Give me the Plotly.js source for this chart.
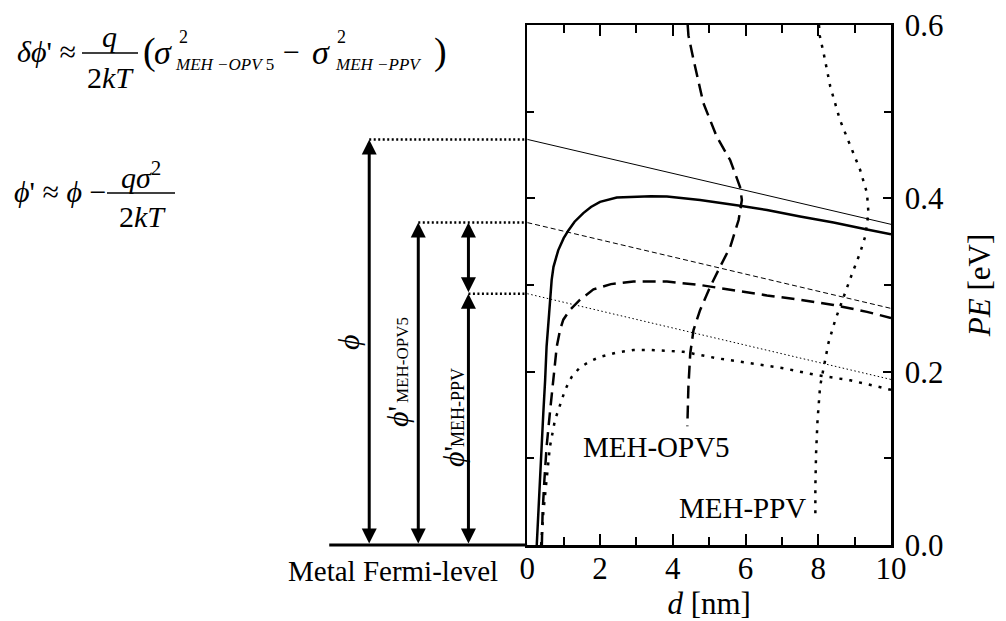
<!DOCTYPE html>
<html>
<head>
<meta charset="utf-8">
<script src="https://cdn.plot.ly/plotly-3.0.1.min.js"></script>
<style>html,body{margin:0;padding:0;background:#fff;}</style>
</head>
<body>
<div id="chart" style="width:1006px;height:621px;"></div>
<script>
// ---------------- data ----------------
const lineEnds = [0, 10];
const phiLineY  = [0.468, 0.370];   // thin solid  (phi)
const opv5LineY = [0.372, 0.273];   // thin dashed (phi' MEH-OPV5)
const ppvLineY  = [0.290, 0.191];   // thin dotted (phi' MEH-PPV)

const phiCurveD = [0.26, 0.30, 0.35, 0.40, 0.44, 0.49, 0.53, 0.60, 0.67, 0.72, 0.85, 1.0, 1.13, 1.3, 1.54, 1.75, 2.0, 2.46, 2.92, 3.4, 3.84, 4.75, 5.85, 6.59, 7.5, 8.42, 9.34, 10];
const phiCurveE = [0, 0.037, 0.075, 0.113, 0.152, 0.19, 0.229, 0.267, 0.306, 0.321, 0.340, 0.354, 0.363, 0.373, 0.383, 0.390, 0.396, 0.401, 0.402, 0.4025, 0.402, 0.398, 0.3915, 0.3865, 0.379, 0.372, 0.364, 0.3585];

const opv5CurveD = [0.40, 0.42, 0.47, 0.53, 0.62, 0.72, 0.81, 0.90, 0.99, 1.17, 1.45, 1.82, 2.3, 2.92, 3.84, 4.75, 5.67, 6.59, 7.5, 8.42, 9.34, 10];
const opv5CurveE = [0, 0.037, 0.075, 0.113, 0.152, 0.19, 0.229, 0.248, 0.26, 0.271, 0.283, 0.295, 0.301, 0.304, 0.304, 0.300, 0.294, 0.288, 0.283, 0.277, 0.269, 0.262];

const ppvCurveD = [0.38, 0.44, 0.53, 0.62, 0.76, 0.90, 1.04, 1.22, 1.45, 1.73, 2.0, 2.45, 2.92, 3.38, 4.29, 5.21, 6.13, 7.04, 7.96, 8.88, 9.71, 10];
const ppvCurveE = [0, 0.037, 0.075, 0.113, 0.144, 0.162, 0.179, 0.194, 0.205, 0.212, 0.217, 0.222, 0.225, 0.225, 0.223, 0.2155, 0.21, 0.204, 0.196, 0.19, 0.182, 0.179];

const opv5ProfileD = [4.41, 4.43, 4.57, 4.84, 5.21, 5.58, 5.85, 5.90, 5.81, 5.58, 5.30, 5.03, 4.75, 4.57, 4.48, 4.43, 4.40];
const opv5ProfileE = [0.6, 0.588, 0.56, 0.510, 0.471, 0.444, 0.413, 0.398, 0.375, 0.344, 0.321, 0.298, 0.271, 0.248, 0.221, 0.183, 0.137];

const ppvProfileD = [8.02, 8.04, 8.15, 8.33, 8.60, 8.88, 9.15, 9.34, 9.38, 9.29, 9.15, 8.93, 8.70, 8.47, 8.28, 8.15, 8.05, 7.98, 7.94, 7.92, 7.92];
const ppvProfileE = [0.6, 0.588, 0.567, 0.529, 0.490, 0.460, 0.433, 0.406, 0.383, 0.356, 0.337, 0.313, 0.287, 0.260, 0.233, 0.206, 0.183, 0.144, 0.106, 0.067, 0.029];

const levelNames  = ['phi', 'phiOPV5', 'phiPPV'];
const levelValues = [0.468, 0.372, 0.290];

const xTickVals = [0, 2, 4, 6, 8, 10];
const xTickText = ['0', '2', '4', '6', '8', '10'];
const yTickVals = [0, 0.2, 0.4, 0.6];
const yTickText = ['0.0', '0.2', '0.4', '0.6'];

// ---------------- layout helpers ----------------
const FONT = 'Liberation Serif, DejaVu Serif, serif';
const W = 1006, H = 621, ML = 0, MR = 115, MT = 25, MB = 66;
const PW = W - ML - MR, PH = H - MT - MB;
const px2p = px => (px - ML) / PW;
const py2p = py => (MT + PH - py) / PH;

// x positions (left panel, nm-like units) of the level arrows
const arrowX = {phi: -4.35, phiOPV5: -3.0, phiPPV: -1.62};
const baselineStart = -5.45;

const traces = [];
const blk = 'black';
function addLine(x, y, width, dash, xa, ya) {
  traces.push({x: x, y: y, type: 'scatter', mode: 'lines',
    line: {color: blk, width: width, dash: dash, shape: 'linear'},
    xaxis: xa || 'x', yaxis: ya || 'y', hoverinfo: 'skip', showlegend: false});
}
addLine(lineEnds, phiLineY, 1, 'solid');
addLine(lineEnds, opv5LineY, 1, '5px,3px');
addLine(lineEnds, ppvLineY, 1, '1.5px,2.5px');
addLine(phiCurveD, phiCurveE, 2.5, 'solid');
addLine(opv5CurveD, opv5CurveE, 2.5, '13px,7px');
addLine(ppvCurveD, ppvCurveE, 2.5, '3px,7px');
addLine(opv5ProfileD, opv5ProfileE, 2.5, '13px,7px');
addLine(ppvProfileD, ppvProfileE, 2.5, '3px,7px');

// dotted level lines in left panel
levelNames.forEach((n, i) => {
  addLine([arrowX[n], 0], [levelValues[i], levelValues[i]], 2.5, '2px,2.5px', 'x2', 'y2');
});
// metal Fermi level baseline
addLine([baselineStart, 0], [0, 0], 3, 'solid', 'x2', 'y2');

const annotations = [];
function arrow(x, y0, y1) {
  annotations.push({xref: 'x2', yref: 'y2', axref: 'x2', ayref: 'y2',
    x: x, y: y1, ax: x, ay: y0, text: '', showarrow: true,
    arrowhead: 2, startarrowhead: 2, arrowside: 'end+start',
    arrowsize: 1, startarrowsize: 1, arrowwidth: 3, arrowcolor: blk,
    standoff: 0, startstandoff: 0});
}
arrow(arrowX.phi, 0, levelValues[0]);
arrow(arrowX.phiOPV5, 0, levelValues[1]);
arrow(arrowX.phiPPV, 0, levelValues[2]);
arrow(arrowX.phiPPV, levelValues[2], levelValues[1]);

function txt(o) {
  annotations.push(Object.assign({showarrow: false, xanchor: 'center', yanchor: 'middle',
    font: {family: FONT, size: 30, color: blk}}, o));
}
// rotated labels in the left panel (positioned in pixels)
function ptxt(px, py, size, text) {
  txt({xref: 'paper', yref: 'paper', x: px2p(px), y: py2p(py), textangle: -90,
       text: text, font: {family: FONT, size: size, color: blk}});
}
ptxt(348, 342, 30, '<i>ϕ</i>');
ptxt(397, 417, 30, "<i>ϕ</i>'");
ptxt(402, 360, 17, 'MEH-OPV5');
ptxt(453, 457, 30, "<i>ϕ</i>'");
ptxt(458, 408, 18, 'MEH-PPV');

txt({xref: 'x2', yref: 'y2', x: -0.75, y: 0, yshift: -26, xanchor: 'right',
     text: 'Metal Fermi-level', font: {family: FONT, size: 29, color: blk}});
// curve labels in plot
txt({xref: 'x', yref: 'y', x: 3.54, y: 0.113, text: 'MEH-OPV5', font: {family: FONT, size: 29, color: blk}});
txt({xref: 'x', yref: 'y', x: 5.92, y: 0.043, text: 'MEH-PPV', font: {family: FONT, size: 29, color: blk}});

// formulas (paper coordinates from pixel positions)
function ftxt(px, baseline, size, text, xanchor) {
  txt({xref: 'paper', yref: 'paper', x: px2p(px), y: py2p(baseline - 0.3375 * size),
       xanchor: xanchor || 'left', text: text,
       font: {family: FONT, size: size, color: blk}});
}
ftxt(15, 62, 30, "<i>δϕ</i>' ≈");
ftxt(109, 47, 30, '<i>q</i>', 'center');
ftxt(110, 88, 30, '2<i>kT</i>', 'center');
ftxt(141, 64, 38, '(');
ftxt(152, 64, 34, '<i>σ</i>');
ftxt(177, 43, 18, '2');
ftxt(173, 70, 17, '<i>MEH −OPV</i> 5');
ftxt(281, 62, 30, '−');
ftxt(310, 64, 34, '<i>σ</i>');
ftxt(335, 43, 18, '2');
ftxt(333, 70, 17, '<i>MEH −PPV</i>');
ftxt(432, 64, 38, ')');

ftxt(12, 202, 30, "<i>ϕ</i>' ≈ <i>ϕ</i> −");
ftxt(141, 185, 30, '<i>qσ</i><sup>2</sup>', 'center');
ftxt(142, 227, 30, '2<i>kT</i>', 'center');

const shapes = [
  {type: 'line', xref: 'paper', yref: 'paper', x0: px2p(82), x1: px2p(138), y0: py2p(53), y1: py2p(53), line: {color: blk, width: 1.5}},
  {type: 'line', xref: 'paper', yref: 'paper', x0: px2p(107), x1: px2p(175), y0: py2p(193), y1: py2p(193), line: {color: blk, width: 1.5}}
];

const mainLeft = px2p(527.3);
const yBottom = py2p(545);
const tickFont = {family: FONT, size: 31, color: blk};
const layout = {
  width: W, height: H,
  margin: {l: ML, r: MR, t: MT, b: MB, pad: 0},
  paper_bgcolor: 'white', plot_bgcolor: 'rgba(0,0,0,0)',
  font: {family: FONT, color: blk},
  showlegend: false, hovermode: false,
  xaxis: {domain: [mainLeft, 1], range: [0, 10], anchor: 'y',
    showline: true, linewidth: 2.5, linecolor: blk, mirror: 'ticks',
    ticks: 'inside', ticklen: 11, tickwidth: 2, tickcolor: blk,
    tickmode: 'array', tickvals: xTickVals, ticktext: xTickText,
    minor: {dtick: 1, tick0: 0, ticks: 'inside', ticklen: 8, tickwidth: 2, tickcolor: blk, showgrid: false},
    showgrid: false, zeroline: false, tickfont: tickFont, ticklabelstandoff: -6,
    title: {text: '<i>d</i> [nm]', font: tickFont, standoff: 6}, fixedrange: true},
  yaxis: {domain: [yBottom, 1], range: [0, 0.6], anchor: 'x', side: 'right',
    showline: true, linewidth: 2.5, linecolor: blk, mirror: 'ticks',
    ticks: 'inside', ticklen: 8, tickwidth: 2, tickcolor: blk,
    tickmode: 'array', tickvals: yTickVals, ticktext: yTickText,
    minor: {dtick: 0.1, tick0: 0, ticks: 'inside', ticklen: 7, tickwidth: 2, tickcolor: blk, showgrid: false},
    showgrid: false, zeroline: false, tickfont: tickFont, ticklabelstandoff: 5,
    title: {text: '<i>PE</i> [eV]', font: tickFont, standoff: 26}, fixedrange: true},
  xaxis2: {domain: [0, mainLeft], range: [-14.51, 0], anchor: 'y2', visible: false, fixedrange: true},
  yaxis2: {domain: [0, 1], range: [-(10 / PH) * 0.6 / (1 - yBottom) , 0.6], anchor: 'x2', visible: false, fixedrange: true},
  annotations: annotations,
  shapes: shapes
};

Plotly.newPlot('chart', traces, layout, {staticPlot: true, displayModeBar: false});
</script>
</body>
</html>
